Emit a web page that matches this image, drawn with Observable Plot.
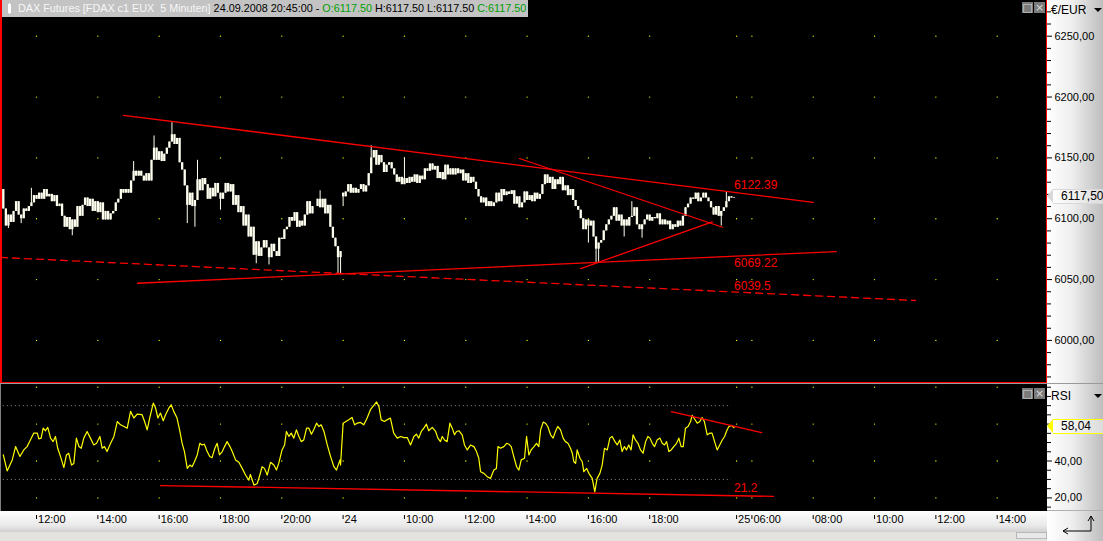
<!DOCTYPE html>
<html>
<head>
<meta charset="utf-8">
<script src="https://cdn.jsdelivr.net/npm/d3@7"></script>
<script src="https://cdn.jsdelivr.net/npm/@observablehq/plot@0.6"></script>
<style>
html,body{margin:0;padding:0;background:#000;}
#wrap{position:relative;width:1103px;height:541px;overflow:hidden;background:#000;font-family:"Liberation Sans",Arial,sans-serif;font-size:11px;color:#000;}
.abs{position:absolute;}
.axbg{background:linear-gradient(to right,#ffffff 0%,#eeeeee 45%,#bdbdbd 100%);}
.btn{position:absolute;width:11px;height:11px;background:#7a7a7a;color:#d8d8d8;font-size:11px;line-height:11px;text-align:center;font-family:"DejaVu Sans",sans-serif;}
.tri{position:absolute;width:0;height:0;border-left:4px solid transparent;border-right:4px solid transparent;border-top:4px solid #000;}
</style>
</head>
<body>
<div id="wrap">
  <div class="abs axbg" style="left:1047px;top:0;width:56px;height:383px"></div>
  <div class="abs axbg" style="left:1047px;top:384px;width:56px;height:127px"></div>
  <div class="abs" style="left:0;top:511px;width:1047px;height:30px;background:linear-gradient(to bottom,#ffffff 0%,#e8e8e8 50%,#d2d2d2 68%,#e4e2de 72%,#e4e2de 100%)"></div>
  <div class="abs axbg" style="left:1047px;top:511px;width:56px;height:30px"></div>
  <div class="abs" style="left:0;top:383px;width:1103px;height:1px;background:#9a9a9a"></div>
  <div class="abs" style="left:1047px;top:510px;width:56px;height:1px;background:#b0b0b0"></div>
  <div id="main" class="abs" style="left:0;top:0"></div>
  <div id="rsi" class="abs" style="left:0;top:384px"></div>
  <div class="abs" style="left:0;top:0;width:2px;height:383px;background:#f00"></div>
  <div class="abs" style="left:1046px;top:0;width:1px;height:383px;background:#f00"></div>
  <div class="abs" style="left:0;top:382px;width:1047px;height:1px;background:#f00"></div>
  <div class="abs" style="left:0;top:384px;width:1px;height:127px;background:#808080"></div>
  <div id="title" class="abs" style="left:2px;top:0;height:17px;padding-right:2px;background:#c3c3c3;white-space:nowrap;line-height:17px;font-size:10.8px"></div>
  <div class="btn" style="left:1022px;top:2px">□</div>
  <div class="btn" style="left:1034px;top:2px">×</div>
  <div class="btn" style="left:1022px;top:388px">□</div>
  <div class="btn" style="left:1034px;top:388px">×</div>
  <div class="abs" style="left:1051px;top:3px;font-size:12px">€/EUR</div>
  <div class="tri" style="left:1094px;top:8px"></div>
  <div class="abs" style="left:1051px;top:389px;font-size:12px">RSI</div>
  <div class="tri" style="left:1094px;top:394px"></div>
  <div class="abs" style="left:1016px;top:532px;width:29px;height:5px;background:#e8e8e8;border:1px solid #b8b8b8"></div>
  <svg class="abs" style="left:1055px;top:510px" width="40" height="28">
    <path d="M8 21 H36 V6" fill="none" stroke="#000" stroke-width="1"/>
    <path d="M8 21 l5 -3 M8 21 l5 3 M36 6 l-3 5 M36 6 l3 5" fill="none" stroke="#000" stroke-width="1"/>
  </svg>
</div>
<script>
// ---------------- DATA ----------------
const instrument = "DAX Futures [FDAX c1 EUX\u00a0 5 Minuten]";
const stamp = "24.09.2008 20:45:00";
const lastOHLC = [["O", 6117.50], ["H", 6117.50], ["L", 6117.50], ["C", 6117.50]];

// bar index: 0 = 23.09 10:55, 5-minute bars; 133 = 24.09 08:00, 286 = 24.09 20:45
const sessionStarts = [0, 133];
const sessionOpens = [6124, 6121];
const closes = [
  6108,6094,6103,6097,6106,6114,6103,6100,6108,6106,
  6110,6113,6119,6116,6121,6116,6124,6118,6120,6114,
  6119,6110,6112,6102,6093,6101,6091,6099,6093,6110,
  6102,6111,6117,6110,6116,6106,6114,6105,6113,6099,
  6106,6099,6104,6106,6113,6116,6124,6121,6124,6121,
  6131,6139,6135,6139,6135,6131,6137,6131,6148,6158,
  6148,6155,6147,6153,6158,6163,6169,6161,6166,6146,
  6140,6127,6111,6121,6110,6115,6132,6123,6133,6128,
  6116,6125,6118,6129,6121,6116,6121,6129,6122,6128,
  6111,6119,6105,6110,6094,6103,6085,6093,6070,6081,
  6069,6076,6082,6076,6068,6079,6073,6069,6084,6083,
  6091,6093,6101,6098,6105,6093,6098,6094,6103,6114,
  6104,6110,6110,6116,6109,6116,6104,6111,6093,6084,
  6077,6068,6073,6118,6122,6128,6121,6125,6121,6124,
  6128,6122,6127,6137,6150,6156,6144,6152,6146,6138,
  6144,6146,6141,6136,6130,6134,6128,6133,6129,6134,
  6130,6136,6129,6135,6132,6141,6139,6145,6140,6143,
  6133,6138,6132,6144,6136,6141,6136,6141,6137,6140,
  6131,6137,6129,6134,6130,6124,6118,6113,6117,6110,
  6114,6110,6113,6121,6114,6124,6119,6122,6120,6123,
  6112,6118,6109,6113,6122,6115,6119,6114,6121,6116,
  6120,6128,6136,6129,6134,6124,6132,6128,6134,6123,
  6127,6119,6124,6115,6110,6107,6100,6091,6099,6094,
  6098,6085,6075,6080,6082,6090,6095,6099,6102,6109,
  6098,6103,6094,6099,6094,6101,6102,6109,6095,6091,
  6095,6099,6103,6098,6101,6100,6104,6095,6099,6095,
  6098,6091,6095,6093,6098,6094,6102,6109,6112,6117,
  6116,6121,6114,6117,6121,6117,6114,6109,6103,6110,
  6102,6106,6109,6114,6118,6117,6117.5
];
const wickHighs = [[11,6125],[51,6147],[59,6168],[66,6179],[76,6148],[124,6123],[144,6160],[157,6150],[246,6114],[283,6122]];
const wickLows = [[2,6092],[7,6096],[27,6086],[72,6096],[75,6093],[85,6107],[99,6063],[104,6062],[131,6055],[132,6055],[133,6110],[229,6080],[232,6064],[233,6064],[243,6085],[250,6084],[281,6094]];

// RSI readings [bar, value]
const rsi = [
  [0,43.3],[1.5,34.6],[3.5,40.6],[4.8,47.8],[6.5,42.4],[8,46.0],[9.3,47.8],[10.6,51.4],[11.9,55.1],[13.3,55.1],
  [13.9,52.0],[14.8,52.4],[15.6,57.8],[16.5,56.4],[17.4,58.2],[18.5,52.4],[19.5,50.5],[20.4,53.3],[21.3,46.9],[22.4,42.4],
  [23.7,36.4],[24.7,43.3],[25.6,44.2],[26.7,37.8],[27.6,38.7],[28.6,52.4],[29.6,47.8],[30.5,46.9],[31.5,52.4],[32.8,56.0],
  [34.1,52.4],[35.4,48.7],[36.5,49.6],[37.8,53.3],[38.7,46.9],[39.6,47.8],[40.6,45.1],[42,49.6],[43.3,53.3],[44.6,61.4],
  [45.9,59.6],[47.2,58.7],[48.5,57.8],[49.8,66.9],[51.1,63.3],[52.4,65.4],[54.3,65.1],[55.3,61.4],[56.3,56.9],[57.3,63.3],
  [58.7,71.4],[59.6,68.7],[60.5,63.3],[61.5,66.0],[62.6,61.8],[63.5,65.1],[64.8,68.7],[65.7,70.5],[66.7,66.9],[68,63.3],
  [69,56.9],[70,49.6],[70.9,45.1],[72,36.0],[73,37.8],[73.9,36.9],[74.8,39.6],[75.9,43.3],[76.9,49.6],[77.8,48.7],
  [78.7,49.1],[79.8,45.1],[80.8,42.4],[81.7,41.8],[82.8,46.9],[83.7,49.6],[84.6,43.3],[85.7,45.1],[86.6,47.8],[87.6,50.5],
  [88.7,47.8],[89.6,45.1],[90.9,40.6],[92.2,39.3],[93.5,36.0],[94.8,32.4],[96.1,29.6],[96.7,32.7],[98.1,26.9],[99.4,27.8],
  [100.4,32.4],[101.3,36.9],[102.2,36.0],[103.3,32.4],[104.6,39.3],[105.9,37.8],[106.9,35.1],[107.8,38.7],[109.1,46.0],[110.1,48.7],
  [110.8,56.0],[111.8,53.3],[112.7,55.1],[113.7,52.4],[114.7,56.9],[115.7,53.3],[116.6,50.5],[117.6,51.4],[118.7,57.8],[119.6,57.8],
  [120.6,54.5],[121.5,56.9],[122.6,60.5],[123.5,58.7],[124.4,59.6],[125.5,56.0],[126.8,48.7],[128.1,42.4],[129.4,36.9],[130.4,35.1],
  [131.3,38.7],[131.8,40.6],[132,37.8],[133,60.5],[135.2,62.3],[136.5,63.6],[137.5,59.6],[138.5,60.5],[139.8,60.9],[141.1,59.6],
  [142.4,63.3],[143.7,67.8],[145,70.2],[146.1,72.0],[147,69.6],[147.9,62.3],[149.2,61.4],[150.2,62.3],[151.5,63.3],[152.8,55.1],
  [154.2,52.4],[155.5,53.3],[156.8,52.7],[158.1,52.7],[159.4,48.7],[160.7,53.3],[161.7,54.5],[162.6,52.4],[163.6,56.0],[164.6,57.8],
  [165.6,60.0],[166.5,56.4],[167.9,58.2],[169.2,56.0],[170.1,52.4],[171.1,50.5],[171.8,53.3],[172.7,51.4],[173.7,50.5],[174.8,60.5],
  [175.7,57.8],[176.6,54.2],[177.4,56.0],[178.3,56.4],[179.6,54.2],[180.5,48.7],[181.6,46.0],[182.9,48.7],[184.2,47.8],[185.2,45.1],
  [186.1,41.5],[186.8,34.2],[188.1,33.3],[189.4,31.5],[190.7,30.6],[192,35.1],[193,36.0],[193.6,47.8],[194.6,46.9],[195.9,47.8],
  [197,49.6],[197.9,49.1],[198.8,47.8],[199.8,42.4],[200.9,36.9],[201.8,35.1],[202.7,40.6],[204,41.5],[204.8,53.3],[205.7,43.3],
  [206.6,46.0],[207.7,47.8],[208.7,49.6],[209.6,47.8],[210.3,56.9],[211.3,61.1],[212.2,60.5],[213.1,58.7],[214.2,54.2],[215.2,52.4],
  [216.1,56.0],[217,58.7],[218.1,56.9],[219.1,52.4],[220,50.5],[221,49.6],[222,46.9],[222.7,44.2],[223.3,39.6],[224,38.7],
  [224.6,46.0],[225.7,41.5],[226.6,39.6],[227.2,34.2],[228.3,36.0],[229.2,33.3],[230.5,30.6],[231.5,23.3],[232.4,30.6],[233.5,33.3],
  [234.4,37.8],[235.3,46.9],[236.4,46.0],[237.4,52.4],[238.3,53.3],[239.4,50.5],[240.3,48.7],[241.3,51.4],[242.2,45.1],[243.1,47.8],
  [243.9,46.0],[244.8,48.7],[245.7,46.0],[246.5,54.2],[247.4,51.4],[248.4,49.6],[249.4,46.0],[250.4,44.2],[251.4,50.5],[252.3,53.3],
  [253.1,52.4],[254,49.6],[254.9,47.8],[255.9,51.4],[257,52.4],[257.9,49.6],[258.8,48.7],[259.6,50.5],[260.5,45.1],[261.4,46.0],
  [262.4,47.8],[263.5,49.6],[264.4,52.4],[265.3,47.8],[266.1,47.8],[267,57.8],[268,58.7],[269,61.4],[269.6,64.7],[270.5,62.9],
  [271.6,60.5],[272.6,61.4],[273.5,63.6],[274.4,61.4],[275.5,54.2],[276.5,55.1],[277.4,55.1],[278.4,50.5],[279.4,46.0],[280.4,48.7],
  [281.4,51.4],[282.3,53.3],[283.3,56.9],[284,58.7],[285,59.3],[286,58.04]
];

// trend lines [bar, value]
const trendUpper = [[47, 6185], [317, 6113.5]];
const trendInner = [[202, 6149.5], [281.5, 6093]];
const trendRise = [[226, 6059], [277.5, 6097.5]];
const trendSupport = [[52.5, 6047], [326, 6073]];
const trendDashed = [[-1.1, 6068.2], [357, 6032.8]];
const priceLabels = [6122.39, 6069.22, 6039.5];
const rsiTrendUpper = [[261.5, 66.8], [296.8, 55.4]];
const rsiTrendLower = [[61.5, 26.7], [301.4, 20.8]];
const rsiLabels = [21.2];
const rsiLevels = [70, 30];

// axes
const priceTicks = [6000, 6050, 6100, 6150, 6200, 6250];
const rsiTicks = [20, 40];
const rsiGridLevels = [20, 40, 60, 80];
const tickBars = [13, 37, 61, 85, 109, 133, 157, 181, 205, 229, 253, 287, 293, 317, 341, 365, 389];
const tickLabels = ["12:00","14:00","16:00","18:00","20:00","24","10:00","12:00","14:00","16:00","18:00","25","06:00","08:00","10:00","12:00","14:00"];

// ---------------- BUILD ----------------
const fmt2 = d => d.toFixed(2).replace(".", ",");
const lastBar = closes.length - 1;
const candles = closes.map((c, i) => {
  const s = sessionStarts.indexOf(i);
  const o = s >= 0 ? sessionOpens[s] : closes[i - 1];
  return {bar: i, open: o, close: c, lo: Math.min(o, c), hi: Math.max(o, c), high: Math.max(o, c), low: Math.min(o, c)};
});
wickHighs.forEach(([b, v]) => candles[b].high = v);
wickLows.forEach(([b, v]) => candles[b].low = v);

const xDomain = [-1.1, 408.3];
const labelByBar = new Map(tickBars.map((b, i) => [b, tickLabels[i]]));
const gridMain = tickBars.flatMap(b => priceTicks.map(p => ({bar: b, v: p})));
const gridRsi = tickBars.flatMap(b => rsiGridLevels.map(p => ({bar: b, v: p})));
const priceMinor = d3.range(5970, 6280, 10).filter(v => !priceTicks.includes(v));
const rsiMinor = d3.range(15, 81, 5).filter(v => !rsiTicks.includes(v));
const red = "#ff0000";
const ivory = "#fffff0";
const lineOpts = {x: d => d[0], y: d => d[1], stroke: red, strokeWidth: 1.3};
const style = {background: "transparent", fontFamily: "'Liberation Sans', Arial, sans-serif", fontSize: "11px", color: "#000", overflow: "visible"};

const main = Plot.plot({
  width: 1103, height: 383,
  marginLeft: 0, marginRight: 57, marginTop: 0, marginBottom: 0,
  style,
  x: {domain: xDomain, axis: null, label: null},
  y: {domain: [5964.6, 6279.33], axis: null, label: null},
  marks: [
    Plot.dot(gridMain, {x: "bar", y: "v", r: 0.65, fill: "#ffff00", stroke: null}),
    Plot.ruleX(candles, {x: "bar", y1: "low", y2: "high", stroke: ivory, strokeWidth: 1}),
    Plot.ruleX(candles, {x: "bar", y1: "lo", y2: "hi", stroke: ivory, strokeWidth: 2.3}),
    Plot.line(trendDashed, {...lineOpts, strokeDasharray: "7,5"}),
    Plot.line(trendUpper, lineOpts),
    Plot.line(trendInner, lineOpts),
    Plot.line(trendRise, lineOpts),
    Plot.line(trendSupport, lineOpts),
    Plot.text(priceLabels, {x: () => lastBar, y: d => d, text: d => String(d), textAnchor: "start", fill: red, fontSize: 12}),
    Plot.axisY({anchor: "right", ticks: priceTicks, tickSize: 5, tickPadding: 3, tickFormat: fmt2, color: "#000", fontSize: 11, label: null}),
    Plot.axisY({anchor: "right", ticks: priceMinor, tickSize: 4, tickFormat: () => "", color: "#000", label: null})
  ]
});
document.getElementById("main").appendChild(main);

// label offsets (style only)
const labelDy = [-6, 7, -6];
main.querySelectorAll("g[aria-label='text'] text").forEach((t, i) => {
  t.setAttribute("transform", (t.getAttribute("transform") || "") + ` translate(0,${labelDy[i] ?? 0})`);
});

const rsiPlot = Plot.plot({
  width: 1103, height: 157,
  marginLeft: 0, marginRight: 57, marginTop: 0, marginBottom: 30,
  style,
  x: {domain: xDomain, axis: null, label: null},
  y: {domain: [12.63, 81.46], axis: null, label: null},
  marks: [
    Plot.dot(gridRsi, {x: "bar", y: "v", r: 0.65, fill: "#ffff00", stroke: null}),
    Plot.ruleY(rsiLevels, {x1: () => 0, x2: () => lastBar - 1, y: d => d, stroke: "#8a8a8a", strokeDasharray: "1,3"}),
    Plot.line(rsi, {x: d => d[0], y: d => d[1], stroke: "#ffff00", strokeWidth: 1.2}),
    Plot.line(rsiTrendUpper, lineOpts),
    Plot.line(rsiTrendLower, lineOpts),
    Plot.text(rsiLabels, {x: () => lastBar, y: d => d, text: d => String(d), textAnchor: "start", fill: red, fontSize: 12, dy: -8}),
    Plot.axisY({anchor: "right", ticks: rsiTicks, tickSize: 5, tickPadding: 3, tickFormat: fmt2, color: "#000", fontSize: 11, label: null}),
    Plot.axisY({anchor: "right", ticks: rsiMinor, tickSize: 4, tickFormat: () => "", color: "#000", label: null}),
    Plot.axisX({anchor: "bottom", ticks: tickBars, tickSize: 4, tickFormat: () => "", color: "#000", dy: 4, label: null}),
    Plot.axisX({anchor: "bottom", ticks: tickBars, tickSize: 0, tickPadding: 4, tickFormat: d => labelByBar.get(d), textAnchor: "start", dx: 1.5, color: "#000", fontSize: 11, label: null})
  ]
});
document.getElementById("rsi").appendChild(rsiPlot);

// title
const title = document.getElementById("title");
title.innerHTML = `<span style="display:inline-block;width:3px;height:9px;background:#fff;margin:0 7px 0 6px;vertical-align:-1px;box-shadow:0 -2px 0 -1px #fff,0 2px 0 -1px #fff"></span>` +
  `<span style="color:#f6f6f6">${instrument}</span> ${stamp} - ` +
  lastOHLC.map(([k, v]) => `<span style="color:${k === "O" || k === "C" ? "#00a000" : "#000"}">${k}:${v.toFixed(2)}</span>`).join(" ");

// last-value markers
const wrap = document.getElementById("wrap");
function marker(yc, text, border) {
  const m = document.createElement("div");
  m.className = "abs";
  m.style.cssText = `left:1053px;top:${yc - 8}px;width:50px;height:15px;box-sizing:border-box;background:linear-gradient(to right,#ffffff,#dcdcdc);border-top:1px solid ${border};border-bottom:1px solid ${border};font-size:12px;line-height:13px;padding-left:8px;`;
  m.textContent = text;
  wrap.appendChild(m);
  const t = document.createElement("div");
  t.className = "abs";
  t.style.cssText = `left:1047px;top:${yc - 8}px;width:0;height:0;border-top:7.5px solid transparent;border-bottom:7.5px solid transparent;border-right:6px solid ${border};`;
  wrap.appendChild(t);
}
const lastClose = closes[lastBar];
marker(main.scale("y").apply(lastClose), fmt2(lastClose), "#d8d8d8");
const lastRsi = rsi[rsi.length - 1][1];
marker(384 + rsiPlot.scale("y").apply(lastRsi), fmt2(lastRsi), "#ffff00");
</script>
</body>
</html>
